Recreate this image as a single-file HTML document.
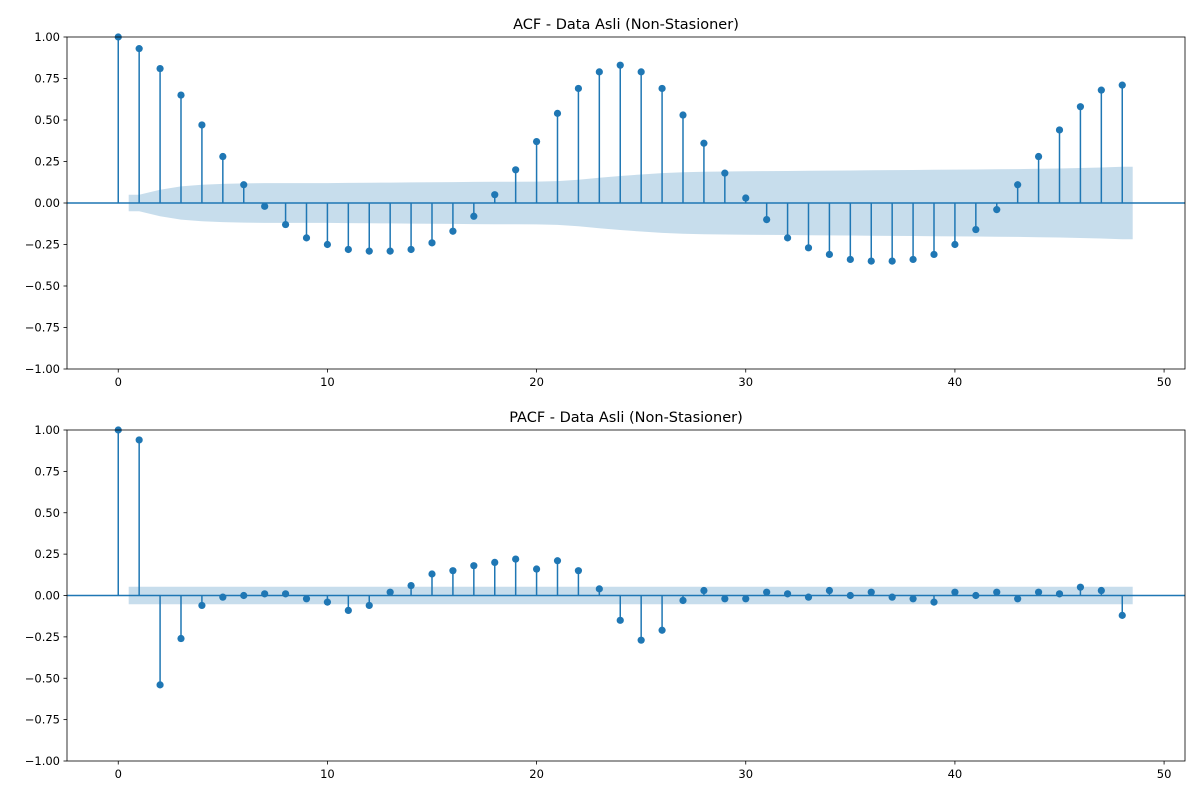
<!DOCTYPE html>
<html><head><meta charset="utf-8"><style>
body{margin:0;background:#fff}
text{font-family:"DejaVu Sans","Liberation Sans",sans-serif;fill:#000}
</style></head><body>
<svg id="chart" width="1200" height="800" xmlns="http://www.w3.org/2000/svg"></svg>
<script>
const lags = Array.from({length:49},(_, i)=>i);
const acfValues=[1,0.93,0.81,0.65,0.47,0.28,0.11,-0.02,-0.13,-0.21,-0.25,-0.28,-0.29,-0.29,-0.28,-0.24,-0.17,-0.08,0.05,0.20,0.37,0.54,0.69,0.79,0.83,0.79,0.69,0.53,0.36,0.18,0.03,-0.10,-0.21,-0.27,-0.31,-0.34,-0.35,-0.35,-0.34,-0.31,-0.25,-0.16,-0.04,0.11,0.28,0.44,0.58,0.68,0.71];
const acfConf=[0,0.05,0.08,0.10,0.11,0.115,0.118,0.12,0.12,0.12,0.12,0.121,0.122,0.123,0.124,0.125,0.126,0.127,0.128,0.128,0.129,0.132,0.14,0.152,0.163,0.172,0.18,0.185,0.188,0.19,0.191,0.192,0.193,0.194,0.195,0.196,0.197,0.198,0.199,0.2,0.201,0.202,0.203,0.204,0.206,0.208,0.211,0.214,0.218];
const pacfValues=[1,0.94,-0.54,-0.26,-0.06,-0.01,0.00,0.01,0.01,-0.02,-0.04,-0.09,-0.06,0.02,0.06,0.13,0.15,0.18,0.20,0.22,0.16,0.21,0.15,0.04,-0.15,-0.27,-0.21,-0.03,0.03,-0.02,-0.02,0.02,0.01,-0.01,0.03,0.00,0.02,-0.01,-0.02,-0.04,0.02,0.00,0.02,-0.02,0.02,0.01,0.05,0.03,-0.12];
const pacfConf=lags.map(()=>0.053);
const xTicks=[0,10,20,30,40,50];
const yTicks=[1,0.75,0.5,0.25,0,-0.25,-0.5,-0.75,-1];
const svg=document.getElementById('chart');
const NS='http://www.w3.org/2000/svg';
function mk(tag,attrs,parent){const e=document.createElementNS(NS,tag);for(const k in attrs)e.setAttribute(k,attrs[k]);(parent||svg).appendChild(e);return e;}
const L=67,R=1185,xmin=-2.45,xmax=51.0;
const xs=v=>L+(v-xmin)/(xmax-xmin)*(R-L);
function panel(name,title,top,bottom,vals,conf){
  const g=mk('g',{});
  
  
  const ys=v=>top+(1-v)/2*(bottom-top);
  let d='M'+xs(0.5)+','+ys(conf[1]);
  for(let i=1;i<conf.length;i++)d+=' L'+xs(i)+','+ys(conf[i]);
  d+=' L'+xs(48.5)+','+ys(conf[48]);
  d+=' L'+xs(48.5)+','+ys(-conf[48]);
  for(let i=conf.length-1;i>=1;i--)d+=' L'+xs(i)+','+ys(-conf[i]);
  d+=' L'+xs(0.5)+','+ys(-conf[1])+'Z';
  const band=mk('path',{d:d,fill:'#1f77b4','fill-opacity':0.25,stroke:'none'},g);
  
  
  const zl=mk('line',{x1:L,x2:R,y1:ys(0),y2:ys(0),stroke:'#1f77b4','stroke-width':1.5},g);
  
  
  vals.forEach((v,i)=>{
    const s=mk('line',{x1:xs(lags[i]),x2:xs(lags[i]),y1:ys(0),y2:ys(v),stroke:'#1f77b4','stroke-width':1.5},g);
    
    
    const c=mk('circle',{cx:xs(lags[i]),cy:ys(v),r:3.6,fill:'#1f77b4'},g);
    
    
  });
  const fr=mk('rect',{x:L,y:top,width:R-L,height:bottom-top,fill:'none',stroke:'#000','stroke-width':0.8},g);
  
  
  xTicks.forEach(t=>{
    mk('line',{x1:xs(t),x2:xs(t),y1:bottom,y2:bottom+3.5,stroke:'#000','stroke-width':0.8},g);
    const tx=mk('text',{x:xs(t),y:bottom+17,'text-anchor':'middle','font-size':11.5},g);
    tx.textContent=t;
    
    
  });
  yTicks.forEach(t=>{
    mk('line',{x1:L-3.5,x2:L,y1:ys(t),y2:ys(t),stroke:'#000','stroke-width':0.8},g);
    const tx=mk('text',{x:L-7,y:ys(t)+4,'text-anchor':'end','font-size':11.5},g);
    tx.textContent=t.toFixed(2).replace('-','\u2212');
    
    
  });
  const ti=mk('text',{x:(L+R)/2,y:top-8,'text-anchor':'middle','font-size':14.5},g);
  ti.textContent=title;
  
  
}
panel('acf','ACF - Data Asli (Non-Stasioner)',37,369,acfValues,acfConf);
panel('pacf','PACF - Data Asli (Non-Stasioner)',430,761,pacfValues,pacfConf);
</script>
</body></html>
